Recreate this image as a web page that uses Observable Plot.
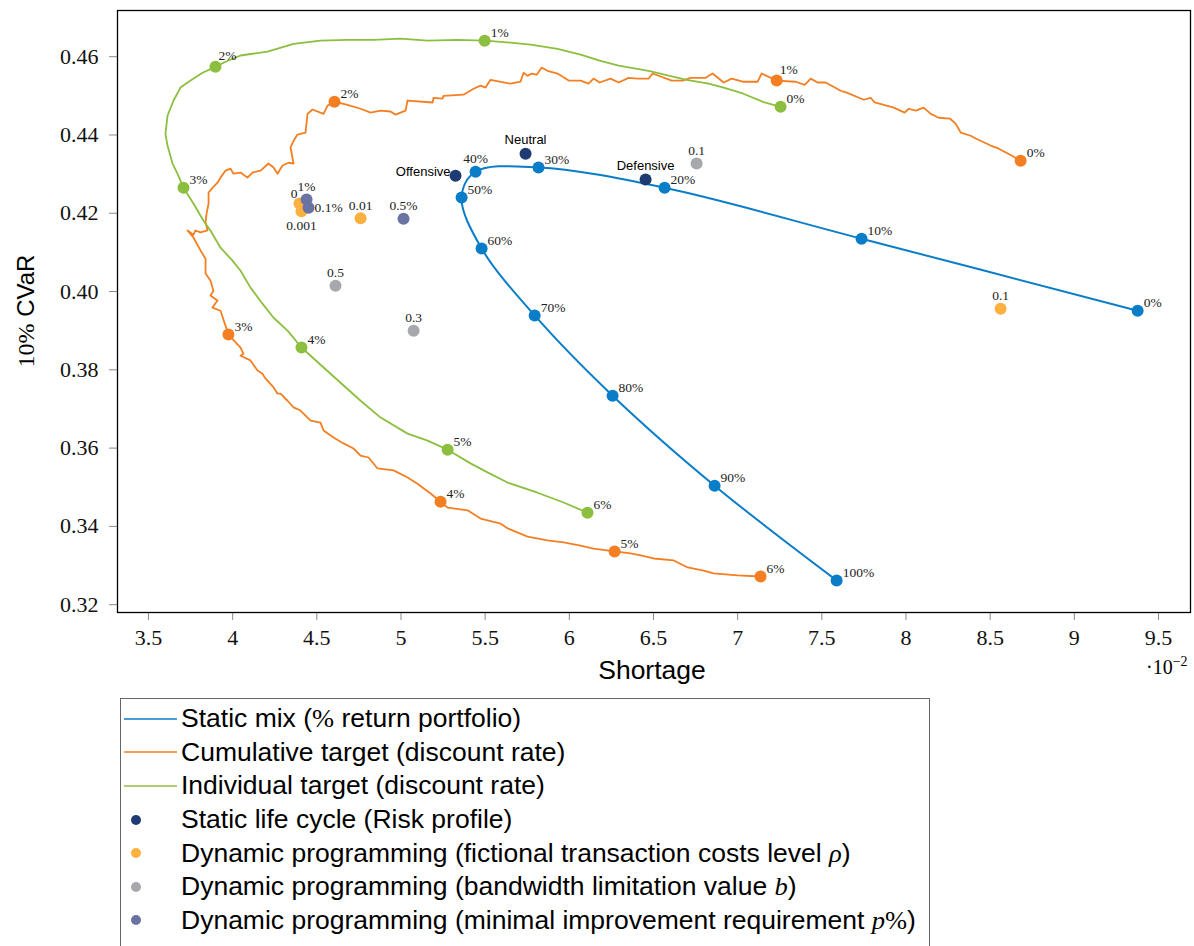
<!DOCTYPE html>
<html>
<head>
<meta charset="utf-8">
<script src="https://cdn.jsdelivr.net/npm/d3@7"></script>
<script src="https://cdn.jsdelivr.net/npm/@observablehq/plot@0.6"></script>
<style>
  body { margin: 0; background: #fff; width: 1194px; height: 946px; overflow: hidden; position: relative; }
  #chart { position: absolute; left: 0; top: 0; }
  #legend { position: absolute; left: 120px; top: 698px; width: 810px; height: 270px; border: 1px solid #666; box-sizing: border-box;
            font-family: "Liberation Sans", Arial, sans-serif; font-size: 25px; color: #000; padding-top: 3px; }
  .row { height: 33.6px; display: flex; align-items: center; white-space: nowrap; }
  .row svg { flex: none; margin-right: 3px; }
  .row span.t { display: inline-block; transform: scaleX(1.06); transform-origin: left center; }
  .m { font-family: "Liberation Serif", serif; }
  .mi { font-family: "Liberation Serif", serif; font-style: italic; }
</style>
</head>
<body>
<div id="chart"></div>
<div id="legend"></div>
<script>
// ---------- axes (shortage in units of 10^-2) ----------
const xTicks = [3.5, 4, 4.5, 5, 5.5, 6, 6.5, 7, 7.5, 8, 8.5, 9, 9.5];
const yTicks = [0.32, 0.34, 0.36, 0.38, 0.40, 0.42, 0.44, 0.46];
const xDomain = [3.316, 9.69];
const yDomain = [0.318, 0.4718];

// ---------- Static mix (% return portfolio) ----------
const mixLabels   = ["0%", "10%", "20%", "30%", "40%", "50%", "60%", "70%", "80%", "90%", "100%"];
const mixShortage = [9.376, 7.736, 6.566, 5.817, 5.443, 5.360, 5.479, 5.794, 6.257, 6.863, 7.588];
const mixCVaR     = [0.3951, 0.4135, 0.4265, 0.4317, 0.4306, 0.4240, 0.4110, 0.3939, 0.3734, 0.3504, 0.3262];

// ---------- Cumulative target (discount rate) ----------
const cumLabels   = ["0%", "1%", "2%", "3%", "4%", "5%", "6%"];
const cumShortage = [8.681, 7.232, 4.605, 3.975, 5.235, 6.269, 7.136];
const cumCVaR     = [0.4334, 0.4539, 0.4485, 0.3890, 0.3463, 0.3336, 0.3272];
const cumPathShortage = [8.681, 8.616, 8.551, 8.503, 8.414, 8.384, 8.325, 8.295, 8.260, 8.194, 8.147, 8.105, 8.058, 8.016, 7.992, 7.927, 7.814, 7.790, 7.749, 7.648, 7.612, 7.523, 7.475, 7.434, 7.398, 7.345, 7.232, 7.142, 7.119, 7.030, 6.964, 6.917, 6.851, 6.810, 6.721, 6.673, 6.608, 6.495, 6.471, 6.406, 6.352, 6.293, 6.245, 6.180, 6.144, 6.114, 6.067, 5.996, 5.930, 5.871, 5.835, 5.806, 5.776, 5.752, 5.728, 5.710, 5.651, 5.532, 5.502, 5.473, 5.431, 5.372, 5.253, 5.247, 5.193, 5.188, 5.039, 5.027, 4.968, 4.938, 4.879, 4.819, 4.760, 4.682, 4.605, 4.564, 4.540, 4.474, 4.445, 4.433, 4.385, 4.362, 4.344, 4.362, 4.332, 4.296, 4.267, 4.243, 4.213, 4.166, 4.118, 4.088, 4.047, 4.005, 3.987, 3.958, 3.928, 3.910, 3.880, 3.857, 3.857, 3.845, 3.839, 3.851, 3.809, 3.779, 3.767, 3.732, 3.767, 3.809, 3.839, 3.839, 3.868, 3.886, 3.868, 3.910, 3.880, 3.928, 3.975, 4.047, 4.064, 4.047, 4.106, 4.148, 4.177, 4.195, 4.243, 4.267, 4.284, 4.326, 4.362, 4.403, 4.463, 4.522, 4.540, 4.599, 4.659, 4.718, 4.760, 4.807, 4.861, 4.956, 5.039, 5.098, 5.176, 5.235, 5.277, 5.395, 5.473, 5.592, 5.633, 5.752, 5.871, 5.966, 6.067, 6.144, 6.269, 6.364, 6.423, 6.501, 6.620, 6.703, 6.798, 6.857, 7.000, 7.136];
const cumPathCVaR = [0.4334, 0.4350, 0.4365, 0.4373, 0.4391, 0.4398, 0.4406, 0.4429, 0.4442, 0.4444, 0.4454, 0.4470, 0.4462, 0.4467, 0.4457, 0.4470, 0.4483, 0.4495, 0.4490, 0.4508, 0.4513, 0.4534, 0.4534, 0.4544, 0.4528, 0.4536, 0.4539, 0.4557, 0.4536, 0.4536, 0.4544, 0.4534, 0.4557, 0.4546, 0.4546, 0.4539, 0.4539, 0.4557, 0.4544, 0.4544, 0.4546, 0.4534, 0.4544, 0.4534, 0.4544, 0.4531, 0.4539, 0.4539, 0.4557, 0.4564, 0.4572, 0.4554, 0.4557, 0.4551, 0.4559, 0.4536, 0.4531, 0.4541, 0.4521, 0.4526, 0.4518, 0.4503, 0.4500, 0.4493, 0.4495, 0.4483, 0.4488, 0.4462, 0.4452, 0.4460, 0.4462, 0.4457, 0.4467, 0.4477, 0.4485, 0.4475, 0.4454, 0.4465, 0.4454, 0.4406, 0.4401, 0.4385, 0.4368, 0.4327, 0.4329, 0.4322, 0.4301, 0.4317, 0.4327, 0.4309, 0.4304, 0.4291, 0.4304, 0.4301, 0.4314, 0.4309, 0.4291, 0.4278, 0.4265, 0.4253, 0.4225, 0.4199, 0.4176, 0.4156, 0.4151, 0.4156, 0.4145, 0.4156, 0.4138, 0.4105, 0.4084, 0.4046, 0.4028, 0.4002, 0.3990, 0.3977, 0.3959, 0.3951, 0.3890, 0.3857, 0.3841, 0.3836, 0.3824, 0.3798, 0.3790, 0.3778, 0.3755, 0.3739, 0.3739, 0.3721, 0.3704, 0.3696, 0.3670, 0.3665, 0.3645, 0.3627, 0.3612, 0.3599, 0.3581, 0.3576, 0.3548, 0.3543, 0.3525, 0.3509, 0.3484, 0.3463, 0.3448, 0.3441, 0.3420, 0.3407, 0.3395, 0.3374, 0.3364, 0.3359, 0.3351, 0.3343, 0.3336, 0.3331, 0.3326, 0.3318, 0.3313, 0.3295, 0.3287, 0.3280, 0.3275, 0.3272];

// ---------- Individual target (discount rate) ----------
const indLabels   = ["0%", "1%", "2%", "3%", "4%", "5%", "6%"];
const indShortage = [7.255, 5.497, 3.898, 3.708, 4.409, 5.277, 6.108];
const indCVaR     = [0.4472, 0.4641, 0.4574, 0.4265, 0.3857, 0.3596, 0.3435];
const indPathShortage = [7.255, 7.160, 7.030, 6.917, 6.827, 6.697, 6.471, 6.293, 6.180, 6.067, 5.930, 5.770, 5.651, 5.497, 5.336, 5.158, 4.997, 4.837, 4.682, 4.522, 4.362, 4.207, 4.047, 3.958, 3.898, 3.821, 3.750, 3.690, 3.649, 3.613, 3.601, 3.613, 3.643, 3.672, 3.708, 3.767, 3.827, 3.868, 3.928, 3.999, 4.047, 4.106, 4.177, 4.243, 4.326, 4.409, 4.540, 4.641, 4.760, 4.879, 5.039, 5.158, 5.277, 5.413, 5.514, 5.633, 5.811, 5.966, 6.108];
const indPathCVaR = [0.4472, 0.4483, 0.4506, 0.4521, 0.4531, 0.4541, 0.4564, 0.4577, 0.4590, 0.4605, 0.4620, 0.4631, 0.4636, 0.4641, 0.4643, 0.4641, 0.4646, 0.4643, 0.4643, 0.4641, 0.4633, 0.4613, 0.4603, 0.4587, 0.4574, 0.4559, 0.4539, 0.4521, 0.4488, 0.4449, 0.4403, 0.4373, 0.4327, 0.4301, 0.4265, 0.4225, 0.4181, 0.4156, 0.4112, 0.4079, 0.4053, 0.4010, 0.3969, 0.3933, 0.3900, 0.3857, 0.3806, 0.3767, 0.3721, 0.3678, 0.3637, 0.3619, 0.3596, 0.3561, 0.3538, 0.3512, 0.3486, 0.3461, 0.3435];

// ---------- Static life cycle (Risk profile) ----------
const lcLabels   = ["Offensive", "Neutral", "Defensive"];
const lcShortage = [5.324, 5.740, 6.453];
const lcCVaR     = [0.4296, 0.4352, 0.4286];

// ---------- Dynamic programming (fictional transaction costs level rho) ----------
const rhoLabels   = ["0", "0.001", "0.01", "0.1"];
const rhoShortage = [4.397, 4.409, 4.760, 8.562];
const rhoCVaR     = [0.4225, 0.4205, 0.4187, 0.3956];

// ---------- Dynamic programming (bandwidth limitation value b) ----------
const bLabels   = ["0.1", "0.3", "0.5"];
const bShortage = [6.756, 5.075, 4.611];
const bCVaR     = [0.4327, 0.3900, 0.4015];

// ---------- Dynamic programming (minimal improvement requirement p%) ----------
const pLabels   = ["1%", "0.1%", "0.5%"];
const pShortage = [4.439, 4.451, 5.015];
const pCVaR     = [0.4235, 0.4214, 0.4186];

// ---------- series styling ----------
const series = [
  {key: "mix", color: "#0a7dc9", type: "line", legend: 'Static mix (<span class="m">%</span> return portfolio)'},
  {key: "cum", color: "#f47f22", type: "line", legend: "Cumulative target (discount rate)"},
  {key: "ind", color: "#8cbf3f", type: "line", legend: "Individual target (discount rate)"},
  {key: "lc",  color: "#1f3b73", type: "dot",  legend: "Static life cycle (Risk profile)"},
  {key: "rho", color: "#fbb040", type: "dot",  legend: 'Dynamic programming (fictional transaction costs level <span class="mi">ρ</span>)'},
  {key: "b",   color: "#a7a8ab", type: "dot",  legend: 'Dynamic programming (bandwidth limitation value <span class="mi">b</span>)'},
  {key: "p",   color: "#6974a2", type: "dot",  legend: 'Dynamic programming (minimal improvement requirement <span class="mi">p</span><span class="m">%</span>)'}
];
const colorOf = Object.fromEntries(series.map(s => [s.key, s.color]));

const rows = (group, xs, ys, labels) => xs.map((x, i) => ({group, shortage: x, cvar: ys[i], label: labels ? labels[i] : ""}));

const mixPts = rows("mix", mixShortage, mixCVaR, mixLabels);
const cumPts = rows("cum", cumShortage, cumCVaR, cumLabels);
const indPts = rows("ind", indShortage, indCVaR, indLabels);
const cumPath = rows("cum", cumPathShortage, cumPathCVaR);
const indPath = rows("ind", indPathShortage, indPathCVaR);
const lcPts  = rows("lc", lcShortage, lcCVaR, lcLabels);
const rhoPts = rows("rho", rhoShortage, rhoCVaR, rhoLabels);
const bPts   = rows("b", bShortage, bCVaR, bLabels);
const pPts   = rows("p", pShortage, pCVaR, pLabels);

// label placement (style, not data)
const placements = {
  ar:  {textAnchor: "start",  dx: 6,  dy: -8},
  arh: {textAnchor: "start",  dx: 3,  dy: -11},
  ab:  {textAnchor: "middle", dx: 0,  dy: -13},
  abh: {textAnchor: "middle", dx: 0,  dy: -14},
  be:  {textAnchor: "middle", dx: 0,  dy: 14},
  r:   {textAnchor: "start",  dx: 6,  dy: 0},
  al:  {textAnchor: "end",    dx: -2, dy: -10},
  l:   {textAnchor: "end",    dx: -5, dy: -4}
};
const placeOf = d => ({
  "mix:40%": "ab", "ind:2%": "arh", "cum:1%": "arh",
  "rho:0": "al", "rho:0.001": "be", "rho:0.01": "ab", "rho:0.1": "ab",
  "b:0.1": "ab", "b:0.3": "ab", "b:0.5": "ab",
  "p:1%": "ab", "p:0.1%": "r", "p:0.5%": "ab",
  "lc:Offensive": "l", "lc:Neutral": "abh", "lc:Defensive": "abh"
})[d.group + ":" + d.label] || "ar";

const serifPts = [...mixPts, ...cumPts, ...indPts, ...rhoPts, ...bPts, ...pPts];
const labelMarks = [];
for (const [k, opt] of Object.entries(placements)) {
  const serifData = serifPts.filter(d => placeOf(d) === k);
  if (serifData.length) labelMarks.push(Plot.text(serifData, {x: "shortage", y: "cvar", text: "label", ...opt,
      fontSize: 13.5, fontFamily: "'Liberation Serif', serif", fill: "#222"}));
  const sansData = lcPts.filter(d => placeOf(d) === k);
  if (sansData.length) labelMarks.push(Plot.text(sansData, {x: "shortage", y: "cvar", text: "label", ...opt,
      fontSize: 13, fontFamily: "'Liberation Sans', Arial, sans-serif", fill: "#000"}));
}

const dotOpts = g => ({x: "shortage", y: "cvar", r: 6, fill: colorOf[g], stroke: "none"});

const chart = Plot.plot({
  width: 1194,
  height: 690,
  marginLeft: 117,
  marginRight: 4,
  marginTop: 10,
  marginBottom: 78,
  style: {background: "white", overflow: "visible", fontFamily: "'Liberation Serif', serif"},
  x: {domain: xDomain},
  y: {domain: yDomain},
  marks: [
    Plot.axisX({ticks: xTicks, tickFormat: d => String(d), tickSize: 8, tickPadding: 9, fontSize: 22, stroke: "#8a8a8a", fill: "#111", label: null}),
    Plot.axisY({ticks: yTicks, tickFormat: d3.format(".2f"), tickSize: 8, tickPadding: 11, fontSize: 22, stroke: "#8a8a8a", fill: "#111", label: null}),
    Plot.line(cumPath, {x: "shortage", y: "cvar", stroke: colorOf.cum, strokeWidth: 1.8}),
    Plot.line(indPath, {x: "shortage", y: "cvar", stroke: colorOf.ind, strokeWidth: 1.8}),
    Plot.line(mixPts, {x: "shortage", y: "cvar", stroke: colorOf.mix, strokeWidth: 2, curve: "catmull-rom"}),
    Plot.dot(cumPts, dotOpts("cum")),
    Plot.dot(indPts, dotOpts("ind")),
    Plot.dot(mixPts, dotOpts("mix")),
    Plot.dot(lcPts, dotOpts("lc")),
    Plot.dot(rhoPts, dotOpts("rho")),
    Plot.dot(bPts, dotOpts("b")),
    Plot.dot(pPts, dotOpts("p")),
    ...labelMarks,
    Plot.frame({stroke: "#000", strokeWidth: 1.3})
  ]
});
document.getElementById("chart").appendChild(chart);

// axis titles and scale factor
const svg = d3.select(chart);
svg.append("text").attr("x", 652).attr("y", 679).attr("text-anchor", "middle")
  .attr("font-family", "'Liberation Sans', Arial, sans-serif").attr("font-size", 25)
  .attr("transform", "translate(652,0) scale(1.06,1) translate(-652,0)").text("Shortage");
const yl = svg.append("text").attr("transform", "translate(34,311) rotate(-90)").attr("text-anchor", "middle").attr("font-size", 24);
yl.append("tspan").attr("font-family", "'Liberation Serif', serif").text("10%");
yl.append("tspan").attr("font-family", "'Liberation Sans', Arial, sans-serif").text(" CVaR");
const fx = svg.append("text").attr("x", 1146).attr("y", 674).attr("text-anchor", "start")
  .attr("font-family", "'Liberation Serif', serif").attr("font-size", 20);
fx.append("tspan").text("·10");
fx.append("tspan").attr("dy", -8).attr("font-size", 14).text("−2");

// legend
const legend = d3.select("#legend");
for (const s of series) {
  const row = legend.append("div").attr("class", "row");
  const sw = row.append("svg").attr("width", 57).attr("height", 20);
  if (s.type === "line") sw.append("line").attr("x1", 3).attr("x2", 56).attr("y1", 10).attr("y2", 10).attr("stroke", s.color).attr("stroke-width", 1.3);
  else sw.append("circle").attr("cx", 15).attr("cy", 10).attr("r", 5).attr("fill", s.color);
  row.append("span").attr("class", "t").html(s.legend);
}
</script>
</body>
</html>
